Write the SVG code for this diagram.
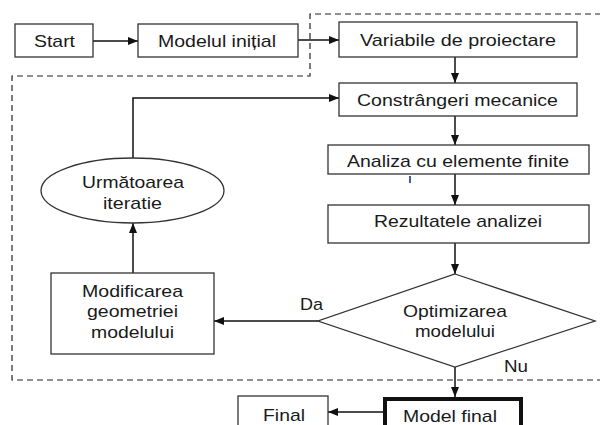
<svg xmlns="http://www.w3.org/2000/svg" width="600" height="425" viewBox="0 0 600 425">
<defs>
<marker id="ah" markerUnits="userSpaceOnUse" markerWidth="10" markerHeight="8" refX="10" refY="4" orient="auto">
<path d="M0,0 L10,4 L0,8 z" fill="#111"/>
</marker>
<style>
.box{fill:#fff;stroke:#333;stroke-width:1.3}
.thick{fill:#fff;stroke:#111;stroke-width:4}
.t{font-family:"Liberation Sans",Arial,sans-serif;font-size:17px;fill:#1a1a1a}
.c{fill:none;stroke:#111;stroke-width:1.5;marker-end:url(#ah)}
.dash{fill:none;stroke:#222;stroke-width:1.2;stroke-dasharray:6,4}
</style>
</defs>
<rect width="600" height="425" fill="#fff"/>
<path class="dash" d="M601 14 L310 14 L310 76 L12 76 L12 380 L601 380"/>
<g id="connectors">
<path class="c" d="M93 41 H138"/>
<path class="c" d="M298 40 H339"/>
<path class="c" d="M455 57 V83"/>
<path class="c" d="M455 116 V145"/>
<path class="c" d="M455 174 V205"/>
<path class="c" d="M455 243 V274"/>
<path class="c" d="M455 367 V397"/>
<path class="c" d="M383 412 H328"/>
<path class="c" d="M318 321 H214"/>
<path class="c" d="M133 273 V223"/>
<path class="c" d="M133 158 V98 H339"/>
<text class="t" x="300" y="310" textLength="23" lengthAdjust="spacingAndGlyphs">Da</text>
<text class="t" x="504" y="372" textLength="24" lengthAdjust="spacingAndGlyphs">Nu</text>
</g>
<g id="start">
<rect class="box" x="15" y="24" width="78" height="33"/>
<text class="t" x="34" y="47" textLength="41" lengthAdjust="spacingAndGlyphs">Start</text>
</g>
<g id="modelul-initial">
<rect class="box" x="138" y="24" width="160" height="33"/>
<text class="t" x="158" y="47" textLength="118" lengthAdjust="spacingAndGlyphs">Modelul inițial</text>
</g>
<g id="variabile">
<rect class="box" x="339" y="22" width="238" height="35"/>
<text class="t" x="360" y="46" textLength="196" lengthAdjust="spacingAndGlyphs">Variabile de proiectare</text>
</g>
<g id="constrangeri">
<rect class="box" x="339" y="83" width="238" height="33"/>
<text class="t" x="357" y="106" textLength="201" lengthAdjust="spacingAndGlyphs">Constrângeri mecanice</text>
</g>
<g id="analiza">
<rect class="box" x="328" y="145" width="261" height="29"/>
<text class="t" x="347" y="167" textLength="222" lengthAdjust="spacingAndGlyphs">Analiza cu elemente finite</text>
<rect x="409" y="176" width="2" height="7" fill="#4a58a8"/>
</g>
<g id="rezultatele">
<rect class="box" x="328" y="205" width="261" height="38"/>
<text class="t" x="374" y="227" textLength="168" lengthAdjust="spacingAndGlyphs">Rezultatele analizei</text>
</g>
<g id="optimizarea">
<polygon class="box" points="455,274 595,321 455,367 318,321"/>
<text class="t" x="403" y="317" textLength="104" lengthAdjust="spacingAndGlyphs">Optimizarea</text>
<text class="t" x="415" y="337" textLength="80" lengthAdjust="spacingAndGlyphs">modelului</text>
</g>
<g id="modificarea">
<rect class="box" x="51" y="273" width="163" height="81"/>
<text class="t" x="82" y="297" textLength="101" lengthAdjust="spacingAndGlyphs">Modificarea</text>
<text class="t" x="87" y="317" textLength="91" lengthAdjust="spacingAndGlyphs">geometriei</text>
<text class="t" x="91" y="338" textLength="83" lengthAdjust="spacingAndGlyphs">modelului</text>
</g>
<g id="urmatoarea">
<ellipse class="box" cx="132.5" cy="190.5" rx="91.5" ry="32.5"/>
<text class="t" x="82" y="188" textLength="102" lengthAdjust="spacingAndGlyphs">Următoarea</text>
<text class="t" x="103" y="209" textLength="59" lengthAdjust="spacingAndGlyphs">iteratie</text>
</g>
<g id="model-final">
<rect class="thick" x="385" y="399" width="136" height="40"/>
<text class="t" x="403" y="422" textLength="94" lengthAdjust="spacingAndGlyphs">Model final</text>
</g>
<g id="final">
<rect class="box" x="238" y="396" width="90" height="40"/>
<text class="t" x="263" y="421" textLength="42" lengthAdjust="spacingAndGlyphs">Final</text>
</g>
</svg>
